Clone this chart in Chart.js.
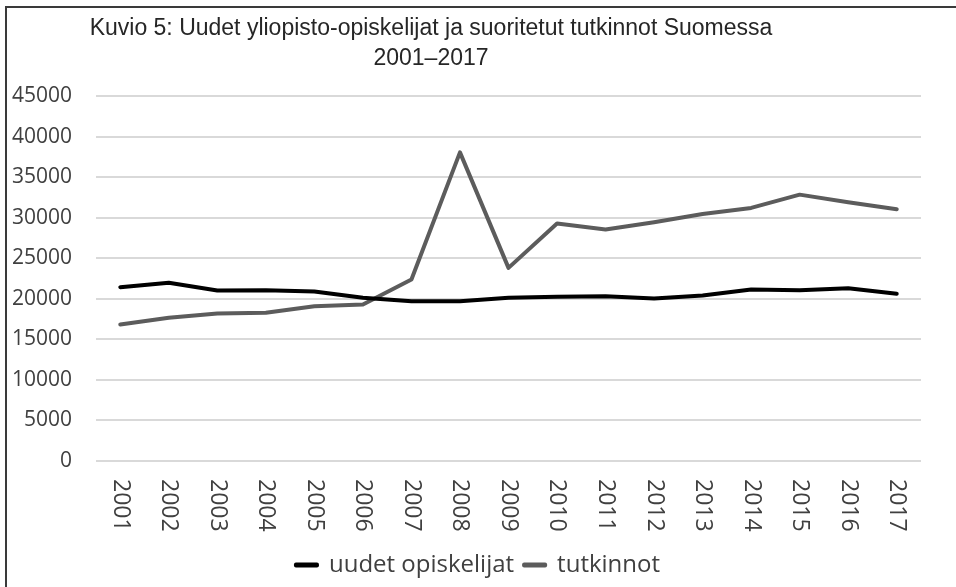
<!DOCTYPE html>
<html>
<head>
<meta charset="utf-8">
<script src="https://cdn.jsdelivr.net/npm/chart.js@4.4.1/dist/chart.umd.min.js"></script>
<style>
    body { margin: 0; background: #fff; }
    #wrap { position: relative; width: 956px; height: 587px; overflow: hidden; }
    #frame { position: absolute; left: 5px; top: 6px; width: 980px; height: 620px;
             border-left: 2px solid #3a3a3a; border-top: 2px solid #3a3a3a; }
    #title { position: absolute; left: 0; top: 12px; width: 862px; text-align: center;
             font-family: "Liberation Sans", sans-serif;
             font-size: 23px; line-height: 30px; color: #262626; }
    canvas { position: absolute; left: 0; top: 0; }
</style>
</head>
<body>
<div id="wrap">
    <canvas id="chart" width="956" height="587"></canvas>
    <div id="frame"></div>
    <div id="title">Kuvio 5: Uudet yliopisto-opiskelijat ja suoritetut tutkinnot Suomessa<br>2001–2017</div>
</div>
<script>
const years = ["2001", "2002", "2003", "2004", "2005", "2006", "2007", "2008", "2009",
               "2010", "2011", "2012", "2013", "2014", "2015", "2016", "2017"];
const uudetOpiskelijat = [21430, 21970, 21020, 21060, 20900, 20120, 19700, 19700, 20120,
                          20250, 20320, 20040, 20400, 21140, 21060, 21310, 20610];
const tutkinnot = [16830, 17660, 18190, 18270, 19090, 19300, 22380, 38050, 23810,
                   29270, 28530, 29430, 30460, 31200, 32840, 31900, 31040];
const seriesNames = ["uudet opiskelijat", "tutkinnot"];
const yMin = 0;
const yMax = 45000;
const yStep = 5000;

// x labels read top-to-bottom, so they are drawn here at the category positions
const yearLabels = {
    id: "yearLabels",
    afterDraw(chart) {
        const { ctx, chartArea } = chart;
        const xScale = chart.scales.x;
        ctx.save();
        ctx.font = '23px "Open Sans"';
        ctx.fillStyle = "#404040";
        ctx.textAlign = "left";
        ctx.textBaseline = "middle";
        years.forEach((yr, i) => {
            ctx.save();
            ctx.translate(xScale.getPixelForValue(i), chartArea.bottom + 18);
            ctx.rotate(Math.PI / 2);
            ctx.fillText(yr, 0, 0);
            ctx.restore();
        });
        ctx.restore();
    }
};

const ctx = document.getElementById("chart").getContext("2d");

new Chart(ctx, {
    type: "line",
    data: {
        labels: years,
        datasets: [{
            label: seriesNames[0],
            data: uudetOpiskelijat,
            borderColor: "#000000",
            backgroundColor: "#000000",
            borderWidth: 4,
            pointRadius: 0,
            tension: 0,
            borderJoinStyle: "round",
            borderCapStyle: "round"
        }, {
            label: seriesNames[1],
            data: tutkinnot,
            borderColor: "#5c5c5c",
            backgroundColor: "#5c5c5c",
            borderWidth: 4,
            pointRadius: 0,
            tension: 0,
            borderJoinStyle: "round",
            borderCapStyle: "round"
        }]
    },
    options: {
        responsive: false,
        animation: false,
        layout: { padding: { top: 96, left: 0, right: 0, bottom: 0 } },
        plugins: {
            title: { display: false },
            tooltip: { enabled: false },
            legend: {
                position: "bottom",
                labels: {
                    boxWidth: 21,
                    boxHeight: 1,
                    padding: 10,
                    color: "#404040",
                    font: { family: "Open Sans", size: 24 }
                }
            }
        },
        scales: {
            x: {
                offset: true,
                grid: { display: false },
                border: { display: false },
                ticks: { display: false },
                afterFit: (scale) => { scale.height = 82; }
            },
            y: {
                min: yMin,
                max: yMax,
                grid: { color: "#d9d9d9", lineWidth: 2, drawTicks: false },
                border: { display: false },
                ticks: {
                    stepSize: yStep,
                    padding: 24,
                    color: "#404040",
                    font: { family: "Open Sans", size: 21 },
                    callback: (value) => String(value)
                },
                afterFit: (scale) => { scale.width = 96; }
            },
            yRight: {
                type: "linear",
                position: "right",
                grid: { display: false },
                border: { display: false },
                ticks: { display: false },
                afterFit: (scale) => { scale.width = 35; }
            }
        }
    },
    plugins: [yearLabels]
});
</script>
</body>
</html>
